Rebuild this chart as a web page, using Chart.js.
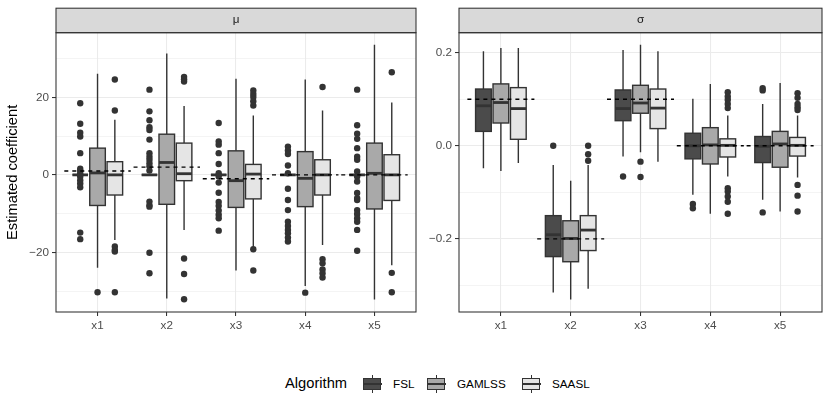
<!DOCTYPE html>
<html>
<head>
<meta charset="utf-8">
<script src="https://cdn.jsdelivr.net/npm/chart.js@4.4.1/dist/chart.umd.min.js"></script>
<style>
  body { margin: 0; background: #fff; width: 830px; height: 415px; position: relative; overflow: hidden;
         font-family: "Liberation Sans", Arial, sans-serif; }
  canvas { position: absolute; top: 0; }
  #muChart { left: 0; }
  #sigmaChart { left: 420px; }
  .lg { position: absolute; color: #000; white-space: nowrap; line-height: 1; }
  .key { position: absolute; top: 375px; width: 21px; height: 18px; }
  .key .wh { position: absolute; left: 9.8px; top: 0; width: 1.4px; height: 18px; background: #333; }
  .key .bx { position: absolute; left: 1px; top: 3px; width: 16px; height: 9.6px; border: 1.4px solid #333; }
  .key .md { position: absolute; left: 1px; top: 8.3px; width: 19px; height: 1.4px; background: #333; }
</style>
</head>
<body>
<canvas id="muChart" width="420" height="340"></canvas>
<canvas id="sigmaChart" width="410" height="340"></canvas>
<div id="legend"></div>
<script>
const categories = ['x1', 'x2', 'x3', 'x4', 'x5'];
const algorithms = ['FSL', 'GAMLSS', 'SAASL'];

// box stats per category: [lower whisker, q1, median, q3, upper whisker]
const muFSL = [[0, 0, 0, 0, 0], [0, 0, 0, 0, 0], [0, 0, 0, 0, 0], [0, 0, 0, 0, 0], [0, 0, 0, 0, 0]];
const muGAMLSS = [[-24.0, -7.9, 0.5, 6.9, 26.1], [-31.9, -7.6, 3.2, 10.5, 31.3], [-24.7, -8.4, -1.5, 6.2, 24.8],
                  [-28.7, -8.2, -0.9, 6.0, 24.6], [-32.2, -8.8, 0.4, 8.2, 33.6]];
const muSAASL = [[-16.8, -5.2, 0, 3.4, 14.2], [-14.2, -1.5, 0.3, 8.2, 17.8], [-18.7, -6.2, 0.2, 2.7, 15.3],
                 [-18.1, -5.2, 0, 3.9, 16.6], [-23.3, -6.6, 0, 5.2, 18.7]];

const muFSLOut = [
  [18.5, 13.2, 10.9, 9.9, 5.6, 1.6, 1.1, 0.4, -0.4, -1.4, -2.2, -3.2, -14.9, -16.6],
  [22, 16.4, 14.1, 12.3, 11.6, 9.1, 5.6, 4.7, 3.9, 3.0, 2.2, 1.1, -6.9, -7.8, -8.2, -20.1, -25.4],
  [13.4, 8.6, 7.8, 5.6, 2.8, 0.4, -0.4, -2.0, -4.6, -7.0, -8.0, -9.2, -10.3, -11.2, -14.4],
  [7.3, 6.3, 5.4, 2.4, 0.4, -3.6, -6.5, -9.1, -12.1, -13.2, -14.2, -15.1, -16.2, -17.2],
  [22, 12.8, 10.6, 9.3, 6.9, 4.7, 3.9, 0.9, -0.4, -1.7, -4.7, -6.0, -6.5, -9.1, -10.1, -11.2, -12.1, -14.2, -19.6]
];
const muGAMLSSOut = [[-30.3], [], [], [-30.4], []];
const muSAASLOut = [
  [24.6, 16.6, -18.5, -19.4, -19.8, -30.3],
  [25.3, 24.7, 24.1, -21.6, -25.6, -32.1],
  [21.8, 20.9, 20.1, 19.0, 17.9, -19.2, -24.7],
  [22.7, -21.8, -22.8, -24.4, -25.4, -26.5],
  [26.5, -25.3, -30.3]
];

const sigmaFSL = [[-0.048, 0.031, 0.086, 0.122, 0.203], [-0.315, -0.238, -0.191, -0.150, -0.041],
                  [-0.023, 0.054, 0.080, 0.120, 0.206], [-0.105, -0.028, 0.0, 0.027, 0.101],
                  [-0.116, -0.036, -0.001, 0.020, 0.090]];
const sigmaGAMLSS = [[-0.054, 0.049, 0.093, 0.133, 0.210], [-0.330, -0.249, -0.199, -0.161, -0.075],
                     [-0.014, 0.070, 0.092, 0.130, 0.217], [-0.146, -0.039, 0.002, 0.039, 0.133],
                     [-0.141, -0.046, 0.004, 0.031, 0.135]];
const sigmaSAASL = [[-0.037, 0.014, 0.080, 0.125, 0.210], [-0.307, -0.225, -0.181, -0.150, -0.041],
                    [-0.034, 0.037, 0.081, 0.122, 0.203], [-0.066, -0.024, 0.001, 0.015, 0.065],
                    [-0.068, -0.022, 0.001, 0.018, 0.065]];

const sigmaFSLOut = [[], [0.0], [-0.066], [-0.125, -0.134], [0.124, 0.119, -0.143]];
const sigmaGAMLSSOut = [[], [], [-0.034, -0.067], [], []];
const sigmaSAASLOut = [
  [], [0, -0.018, -0.032], [],
  [0.115, 0.106, 0.099, 0.090, 0.081, -0.091, -0.098, -0.109, -0.120, -0.146],
  [0.113, 0.103, 0.090, 0.083, 0.077, -0.084, -0.107, -0.141]
];

// true coefficient values (dashed lines)
const muTrue = [1, 2, -1, 0, 0];
const sigmaTrue = [0.1, -0.2, 0.1, 0, 0];

const muTicks = [-30, -20, -10, 0, 10, 20, 30];
const muLabels = [-20, 0, 20];
const sigmaTicks = [-0.3, -0.2, -0.1, 0, 0.1, 0.2];
const sigmaLabels = [-0.2, 0, 0.2];

const fills = ['#4b4b4b', '#a9a9a9', '#e5e5e5'];
const dodge = [-0.25, 0, 0.25];
const boxHalf = 0.1125;
const ink = '#333333';
const gridCol = '#ebebeb';

function boxPlugin(stats) {
  return {
    id: 'boxes',
    beforeDatasetsDraw(chart) {
      const { ctx, scales: { x, y } } = chart;
      ctx.save();
      ctx.strokeStyle = ink;
      stats.forEach((rows, g) => rows.forEach((r, i) => {
        const c = i + 1 + dodge[g];
        const l = x.getPixelForValue(c - boxHalf), rt = x.getPixelForValue(c + boxHalf), xc = x.getPixelForValue(c);
        const [lo, q1, md, q3, hi] = r.map(v => y.getPixelForValue(v));
        ctx.lineWidth = 1.4;
        ctx.beginPath();
        ctx.moveTo(xc, hi); ctx.lineTo(xc, q3);
        ctx.moveTo(xc, q1); ctx.lineTo(xc, lo);
        ctx.stroke();
        ctx.fillStyle = fills[g];
        ctx.fillRect(l, q3, rt - l, q1 - q3);
        ctx.strokeRect(l, q3, rt - l, q1 - q3);
        ctx.lineWidth = 2.8;
        ctx.beginPath(); ctx.moveTo(l, md); ctx.lineTo(rt, md); ctx.stroke();
      }));
      ctx.restore();
    }
  };
}

function stripPlugin(text) {
  return {
    id: 'strip',
    afterDraw(chart) {
      const { ctx, chartArea: a } = chart;
      ctx.save();
      ctx.fillStyle = '#d9d9d9';
      ctx.fillRect(a.left, a.top - 24.5, a.right - a.left, 24.5);
      ctx.strokeStyle = ink;
      ctx.lineWidth = 1.07;
      ctx.strokeRect(a.left, a.top - 24.5, a.right - a.left, 24.5);
      ctx.strokeRect(a.left, a.top, a.right - a.left, a.bottom - a.top);
      ctx.fillStyle = '#1a1a1a';
      ctx.font = '11.7px "Liberation Sans", Arial, sans-serif';
      ctx.textAlign = 'center';
      ctx.textBaseline = 'middle';
      ctx.fillText(text, (a.left + a.right) / 2, a.top - 12.5);
      ctx.restore();
    }
  };
}

function fmt(v) {
  return String(v).replace('-', '\u2212');
}

function facet(id, title, stats, outs, truth, yMin, yMax, ticks, labels, decimals, yTitle, axisWidth, padRight) {
  const datasets = [];
  // dashed reference lines at the true values
  const ref = [];
  truth.forEach((t, i) => {
    ref.push({ x: i + 1 - 0.48, y: t }, { x: i + 1 + 0.48, y: t }, { x: i + 1.5, y: NaN });
  });
  datasets.push({
    type: 'line', data: ref, borderColor: '#000', borderWidth: 1.4, borderDash: [4, 4],
    pointRadius: 0, spanGaps: false, order: 0
  });
  outs.forEach((rows, g) => {
    const pts = [];
    rows.forEach((vals, i) => vals.forEach(v => pts.push({ x: i + 1 + dodge[g], y: v })));
    datasets.push({
      type: 'scatter', label: algorithms[g], data: pts, backgroundColor: ink, borderColor: ink,
      pointRadius: 3.2, borderWidth: 0, order: 1
    });
  });

  return new Chart(document.getElementById(id), {
    type: 'scatter',
    data: { datasets },
    options: {
      responsive: false,
      animation: false,
      layout: { padding: { top: 32.7, right: padRight, left: 0, bottom: 0 } },
      plugins: { legend: { display: false }, tooltip: { enabled: false } },
      scales: {
        x: {
          type: 'linear', min: 0.4, max: 5.6,
          afterBuildTicks: s => { s.ticks = categories.map((c, i) => ({ value: i + 1 })); },
          afterFit: s => { s.height = 28; },
          border: { display: false },
          grid: { color: gridCol, lineWidth: 1.07, tickLength: 4, tickColor: ink, tickWidth: 1.07 },
          ticks: {
            autoSkip: false, maxRotation: 0, padding: 3, color: '#4d4d4d',
            font: { family: '"Liberation Sans", Arial, sans-serif', size: 11.7 },
            callback: v => categories[v - 1]
          }
        },
        y: {
          min: yMin, max: yMax,
          afterBuildTicks: s => { s.ticks = ticks.map(v => ({ value: v })); },
          afterFit: s => { s.width = axisWidth; },
          border: { display: false },
          title: yTitle ? {
            display: true, text: yTitle, color: '#000', padding: { top: 4, bottom: 0 },
            font: { family: '"Liberation Sans", Arial, sans-serif', size: 14.7 }
          } : { display: false },
          grid: {
            color: gridCol,
            lineWidth: c => labels.includes(c.tick.value) ? 1.07 : 0.53,
            tickLength: 4,
            tickColor: c => labels.includes(c.tick.value) ? ink : 'rgba(0,0,0,0)',
            tickWidth: 1.07
          },
          ticks: {
            autoSkip: false, padding: 3, color: '#4d4d4d',
            font: { family: '"Liberation Sans", Arial, sans-serif', size: 11.7 },
            callback: v => labels.includes(v) ? fmt(v.toFixed(decimals)) : ''
          }
        }
      }
    },
    plugins: [boxPlugin(stats), stripPlugin(title)]
  });
}

facet('muChart', '\u03bc', [muFSL, muGAMLSS, muSAASL], [muFSLOut, muGAMLSSOut, muSAASLOut],
      muTrue, -35.4, 36.7, muTicks, muLabels, 0, 'Estimated coefficient', 56, 1);
facet('sigmaChart', '\u03c3', [sigmaFSL, sigmaGAMLSS, sigmaSAASL], [sigmaFSLOut, sigmaGAMLSSOut, sigmaSAASLOut],
      sigmaTrue, -0.357, 0.243, sigmaTicks, sigmaLabels, 1, null, 39, 8);

// legend
const legend = document.getElementById('legend');
const keyLeft = [362, 426, 521];
const textLeft = [393, 457, 552];
let html = '<div class="lg" style="left:285px;top:376px;font-size:14.7px">Algorithm</div>';
algorithms.forEach((a, g) => {
  html += '<div class="key" style="left:' + keyLeft[g] + 'px"><div class="wh"></div>' +
          '<div class="bx" style="background:' + fills[g] + '"></div><div class="md"></div></div>';
  html += '<div class="lg" style="left:' + textLeft[g] + 'px;top:378px;font-size:11.7px">' + a + '</div>';
});
legend.innerHTML = html;
</script>
</body>
</html>
